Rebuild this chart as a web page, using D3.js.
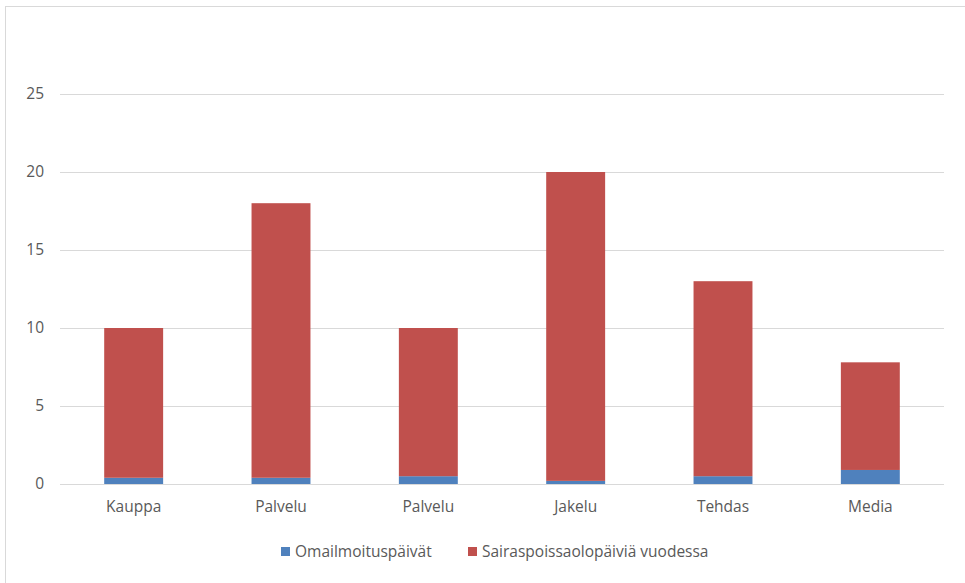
<!DOCTYPE html>
<html><head><meta charset="utf-8">
<script src="https://cdn.jsdelivr.net/npm/d3@7"></script>
<style>body{margin:0;background:#fff}svg{display:block}text{font-family:"Open Sans","Liberation Sans",sans-serif;fill:#595959}</style>
</head><body><svg id="c" width="965" height="583"></svg>
<script>
const categories = ["Kauppa","Palvelu","Palvelu","Jakelu","Tehdas","Media"];
const omailmoitus = [0.4,0.4,0.5,0.2,0.5,0.9];
const sairas = [9.6,17.6,9.5,19.8,12.5,6.9];
const seriesNames = ["Omailmoituspäivät","Sairaspoissaolopäiviä vuodessa"];
const colors = ["#4f81bd","#c0504d"];
const yTicks = [0,5,10,15,20,25];

(function(){
const svg = d3.select("#c");
const fs = 15.5;
svg.append("rect").attr("x",5.5).attr("y",6.5).attr("width",970).attr("height",590)
  .attr("fill","none").attr("stroke","#d9d9d9");

const pL=60, pR=944, pT=94, pB=484;
const idx = categories.map((d,i)=>i);
const x = d3.scaleBand().domain(idx).range([pL,pR]).paddingInner(0.6).paddingOuter(0.3);
const y = d3.scaleLinear().domain([0,25]).range([pB,pT]);

svg.append("g").selectAll("line").data(yTicks).join("line")
  .attr("x1",pL).attr("x2",pR).attr("y1",d=>Math.round(y(d))+0.5).attr("y2",d=>Math.round(y(d))+0.5)
  .attr("stroke","#d9d9d9").attr("stroke-width",1);
svg.append("g").selectAll("text").data(yTicks).join("text")
  .attr("x",44).attr("y",d=>y(d)).attr("dy","0.35em").attr("text-anchor","end")
  .attr("font-size",fs).text(d=>d);

const table = idx.map(i=>({i, a:omailmoitus[i], b:sairas[i]}));
const stack = d3.stack().keys(["a","b"])(table);
stack.forEach((layer,k)=>{
  svg.append("g").selectAll("rect").data(layer).join("rect")
    .attr("x",d=>x(d.data.i)).attr("width",x.bandwidth())
    .attr("y",d=>y(d[1])).attr("height",d=>y(d[0])-y(d[1]))
    .attr("fill",colors[k]);
});

svg.append("g").selectAll("text").data(idx).join("text")
  .attr("x",i=>x(i)+x.bandwidth()/2).attr("y",507).attr("dy","0.35em").attr("text-anchor","middle")
  .attr("font-size",fs).text(i=>categories[i]);

const lg = svg.append("g");
const legX = [281,468];
seriesNames.forEach((n,k)=>{
  lg.append("rect").attr("x",legX[k]).attr("y",547).attr("width",9).attr("height",9).attr("fill",colors[k]);
  lg.append("text").attr("x",legX[k]+14).attr("y",552).attr("dy","0.35em").attr("font-size",fs).text(n);
});
})();
</script></body></html>
